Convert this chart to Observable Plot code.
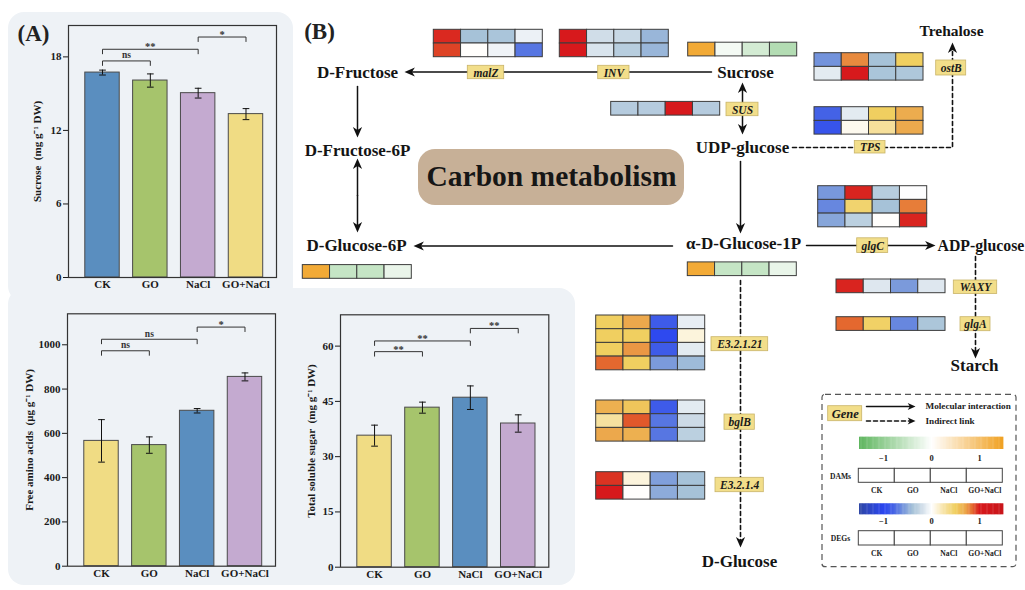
<!DOCTYPE html>
<html><head><meta charset="utf-8">
<script src="https://cdn.jsdelivr.net/npm/d3@7"></script>
<script src="https://cdn.jsdelivr.net/npm/@observablehq/plot@0.6"></script>
<style>
body{margin:0;background:#fff;}
#root{position:relative;width:1025px;height:590px;overflow:hidden;background:#fff;}
.bg{position:absolute;background:#eef2f6;border-radius:16px;}
</style></head><body><div id="root"></div>
<script>
// ================= DATA =================
const groups = ["CK", "GO", "NaCl", "GO+NaCl"];

// Panel A – bar charts (mean ± error)
const sucrose = [16.72, 16.07, 15.04, 13.33];
const sucroseErr = [0.2, 0.54, 0.4, 0.45];
const sucroseTicks = [0, 6, 12, 18];
const sucroseSig = [{a:0,b:1,y:17.67,label:"ns"},{a:0,b:2,y:18.62,label:"**"},{a:2,b:3,y:19.62,label:"*"}];

const aminoAcids = [566, 547, 702, 855];
const aminoErr = [96, 37, 10, 18];
const aminoTicks = [0, 200, 400, 600, 800, 1000];
const aminoSig = [{a:0,b:1,y:973,label:"ns"},{a:0,b:2,y:1025,label:"ns"},{a:2,b:3,y:1080,label:"*"}];

const solubleSugar = [35.7, 43.3, 46.0, 39.0];
const sugarErr = [2.85, 1.5, 3.2, 2.35];
const sugarTicks = [0, 15, 30, 45, 60];
const sugarSig = [{a:0,b:1,y:58.5,label:"**"},{a:0,b:2,y:61.4,label:"**"},{a:2,b:3,y:64.8,label:"**"}];

// Panel B – metabolites, genes and heatmap values (columns: CK, GO, NaCl, GO+NaCl)
const metabolites = ["D-Fructose","Sucrose","D-Fructose-6P","UDP-glucose","Trehalose","D-Glucose-6P","α-D-Glucose-1P","ADP-glucose","Starch","D-Glucose"];
const genes = ["malZ","INV","SUS","TPS","ostB","glgC","WAXY","glgA","E3.2.1.21","bglB","E3.2.1.4"];

const malZExpr   = [[0.97,-0.40,-0.38,-0.08],[0.92,0.01,-0.07,-0.72]];
const invExpr    = [[1.00,-0.20,-0.24,-0.45],[1.00,-0.16,-0.32,-0.45]];
const susExpr    = [[-0.33,-0.33,1.00,-0.33]];
const ostBExpr   = [[-0.60,0.77,-0.40,0.50],[-0.12,1.00,-0.38,-0.36]];
const tpsExpr    = [[-0.80,-0.12,0.50,0.68],[-0.90,0.05,0.30,0.69]];
const glgCExpr   = [[-0.58,0.98,-0.32,-0.01],[-0.65,0.45,-0.40,0.80],[-0.52,-0.30,0.01,0.98]];
const waxyExpr   = [[0.98,-0.14,-0.57,-0.14]];
const glgAExpr   = [[0.85,0.48,-0.65,-0.37]];
const e32121Expr = [[0.50,0.70,-0.85,-0.10],[0.50,0.50,-0.97,0.10],[0.50,0.74,-0.85,-0.12],[0.85,0.50,-0.57,-0.43]];
const bglBExpr   = [[0.66,0.55,-0.85,-0.12],[0.28,0.88,-0.72,-0.22],[0.70,0.66,-0.72,-0.30]];
const e3214Expr  = [[0.95,0.10,-0.55,-0.40],[1.00,0.01,-0.50,-0.40]];
const sucroseDAM = [[1.35,-0.10,-0.41,-0.71]];
const g1pDAM     = [[1.35,-0.54,-0.54,-0.21]];
const g6pDAM     = [[1.35,-0.54,-0.54,-0.20]];
const legendTicks = [-1, 0, 1];

// ================= SCALES =================
const degColor = d3.scaleLinear()
  .domain([-1.5,-1,-0.8,-0.6,-0.4,-0.2,0,0.25,0.5,0.7,0.85,1,1.5])
  .range(["#2f47a6","#2a45f0","#4462e6","#7393dc","#a6c2d8","#d0dde8","#ffffff","#f7e3a8","#f0cf60","#eca84c","#e4682f","#d7191c","#c8161b"])
  .clamp(true);
const damColor = d3.scaleLinear().domain([-1.5,0,1.5]).range(["#5fb65f","#ffffff","#f0a020"]).clamp(true);

// ================= LAYOUT =================
const root = document.getElementById("root");
function bg(l,t,w,h){const d=document.createElement("div");d.className="bg";Object.assign(d.style,{left:l+"px",top:t+"px",width:w+"px",height:h+"px"});root.appendChild(d);}
bg(8,12,285,290); bg(8,288,567,297);
function place(el,l,t){el.style.position="absolute";el.style.left=l+"px";el.style.top=t+"px";root.appendChild(el);}
const SERIF = "'Liberation Serif','Times New Roman',serif";

// ---------- Panel B diagram ----------
const heatSets = [
  {name:"malZ", kind:"DEG", values:malZExpr, at:[433.3,29.3]},
  {name:"INV", kind:"DEG", values:invExpr, at:[559.3,29.3]},
  {name:"sucroseDAM", kind:"DAM", values:sucroseDAM, at:[687.7,42.2]},
  {name:"SUS", kind:"DEG", values:susExpr, at:[610.7,101.4]},
  {name:"ostB", kind:"DEG", values:ostBExpr, at:[814,52.7]},
  {name:"TPS", kind:"DEG", values:tpsExpr, at:[814,106.7]},
  {name:"glgC", kind:"DEG", values:glgCExpr, at:[817.7,185.7]},
  {name:"g1pDAM", kind:"DAM", values:g1pDAM, at:[687.3,261.9]},
  {name:"g6pDAM", kind:"DAM", values:g6pDAM, at:[302.3,264.6]},
  {name:"WAXY", kind:"DEG", values:waxyExpr, at:[836,279]},
  {name:"glgA", kind:"DEG", values:glgAExpr, at:[836,316.7]},
  {name:"E3.2.1.21", kind:"DEG", values:e32121Expr, at:[595.7,315]},
  {name:"bglB", kind:"DEG", values:bglBExpr, at:[595.7,400]},
  {name:"E3.2.1.4", kind:"DEG", values:e3214Expr, at:[595.7,471.7]}
];
const CW = 27.25, CH = 13.7;
const cells = heatSets.flatMap(s => s.values.flatMap((row, r) => row.map((v, c) => ({
  x1: s.at[0] + c*CW, x2: s.at[0] + (c+1)*CW, y1: s.at[1] + r*CH, y2: s.at[1] + (r+1)*CH, v, kind: s.kind
}))));

const nodeLayout = [
  {name:metabolites[0], x:357, y:72, size:17},
  {name:metabolites[1], x:745, y:72, size:17},
  {name:metabolites[2], x:357, y:150, size:17},
  {name:metabolites[3], x:742, y:147, size:17},
  {name:metabolites[4], x:951, y:31, size:15.5},
  {name:metabolites[5], x:356, y:245.5, size:17},
  {name:metabolites[6], x:743, y:243.5, size:17},
  {name:metabolites[8], x:974, y:365.5, size:17},
  {name:metabolites[9], x:739, y:561.5, size:17}
];
const nodeStart = [{name:metabolites[7], x:937, y:245, size:15.8}];

const geneLayout = [
  {gene:genes[0], x1:467.3, x2:503.7, y1:65.3, y2:78.7},
  {gene:genes[1], x1:597.7, x2:629, y1:65.3, y2:78.7},
  {gene:genes[2], x1:726, x2:758, y1:102.2, y2:115.7},
  {gene:genes[3], x1:854.3, x2:885, y1:140.5, y2:153},
  {gene:genes[4], x1:935.7, x2:965.7, y1:60, y2:75},
  {gene:genes[5], x1:856.7, x2:887.7, y1:237.8, y2:252.5},
  {gene:genes[6], x1:953.3, x2:996.7, y1:280, y2:293.5},
  {gene:genes[7], x1:960, x2:990, y1:316.7, y2:330.7},
  {gene:genes[8], x1:711, x2:767.7, y1:336.7, y2:350.7},
  {gene:genes[9], x1:724, x2:754.3, y1:414, y2:429.3},
  {gene:genes[10], x1:715, x2:763.3, y1:477.3, y2:491.7}
];
const legendGene = [{gene:"Gene", x1:827.7, x2:861.7, y1:405.7, y2:420.7}];

// edges: polylines, arrowhead at last point
const edges = [
  {pts:[[711,71.5],[404,71.5]], dash:false},
  {pts:[[357,86],[357,137]], dash:false},
  {pts:[[357,195],[357,158]], dash:false},
  {pts:[[357,195],[357,232]], dash:false},
  {pts:[[672,245.5],[413,245.5]], dash:false},
  {pts:[[742,108],[742,82]], dash:false},
  {pts:[[742,108],[742,134]], dash:false},
  {pts:[[740,161],[740,233]], dash:false},
  {pts:[[792,147],[952,147],[952,42]], dash:true},
  {pts:[[806,245],[935,245]], dash:false},
  {pts:[[975,256],[975,358]], dash:true},
  {pts:[[740,280],[740,547]], dash:true},
  {pts:[[866,406],[915,406]], dash:false, small:true},
  {pts:[[866,420.5],[915,420.5]], dash:true, small:true}
];
const stealth = {draw(ctx, size){const r=Math.sqrt(size/Math.PI);const L=2.6*r,w=1.15*r;ctx.moveTo(0,0);ctx.lineTo(w,L);ctx.lineTo(0,0.72*L);ctx.lineTo(-w,L);ctx.closePath();}};
const lineRows = [], heads = [];
edges.forEach((e, k) => {
  const r = e.small ? 3 : 4;
  const n = e.pts.length, tip = e.pts[n-1], prev = e.pts[n-2];
  const dx = tip[0]-prev[0], dy = tip[1]-prev[1], len = Math.hypot(dx,dy);
  const back = 0.72*2.6*r;
  e.pts.forEach((p, i) => {
    const q = i === n-1 ? [tip[0]-dx/len*back, tip[1]-dy/len*back] : p;
    lineRows.push({k, x:q[0], y:q[1], dash:e.dash});
  });
  heads.push({x:tip[0], y:tip[1], angle: Math.atan2(dy,dx)*180/Math.PI + 90, small: !!e.small});
});

const legSteps = d3.range(-1.5, 1.5, 0.025);
const legX = v => 931 + 48*v;
const legBars = [
  ...legSteps.map(v => ({x1:legX(v), x2:legX(v+0.025)+0.4, y1:436.7, y2:449, fill:damColor(v)})),
  ...legSteps.map(v => ({x1:legX(v), x2:legX(v+0.025)+0.4, y1:503.3, y2:514.3, fill:degColor(v)}))
];
const legBoxes = [0,1,2,3].flatMap(i => [
  {x1:858.3+36*i, x2:858.3+36*(i+1), y1:468.3, y2:482.3, g:groups[i], ty:490.5},
  {x1:858.3+36*i, x2:858.3+36*(i+1), y1:530.7, y2:545, g:groups[i], ty:552.8}
]);
const legTickRows = legendTicks.flatMap(t => [{t, y:457.7}, {t, y:521}]);

const diagram = Plot.plot({
  width:1025, height:590, margin:0,
  x:{domain:[0,1025], range:[0,1025], axis:null},
  y:{domain:[0,590], range:[0,590], axis:null},
  color:{type:"identity"},
  style:{background:"transparent", fontFamily:SERIF, color:"#141414", overflow:"hidden"},
  marks:[
    Plot.rect([{x1:418,x2:684,y1:149,y2:205}], {x1:"x1",x2:"x2",y1:"y1",y2:"y2", fill:"#c7b097", rx:17}),
    Plot.text(["Carbon metabolism"], {x:551, y:176, text:d=>d, fontSize:29.5, fontWeight:"bold", fill:"#161616"}),
    Plot.rect(cells, {x1:"x1",x2:"x2",y1:"y1",y2:"y2", fill:d => (d.kind==="DAM"?damColor:degColor)(d.v), stroke:"#3c3c3c", strokeWidth:1}),
    Plot.line(lineRows.filter(d=>!d.dash), {x:"x", y:"y", z:"k", stroke:"#111", strokeWidth:1.5}),
    Plot.line(lineRows.filter(d=>d.dash), {x:"x", y:"y", z:"k", stroke:"#111", strokeWidth:1.6, strokeDasharray:"4,3"}),
    Plot.dot(heads.filter(d=>!d.small), {x:"x", y:"y", rotate:"angle", r:4, symbol:stealth, fill:"#111", stroke:"none"}),
    Plot.dot(heads.filter(d=>d.small), {x:"x", y:"y", rotate:"angle", r:3, symbol:stealth, fill:"#111", stroke:"none"}),
    Plot.rect(geneLayout.concat(legendGene), {x1:"x1",x2:"x2",y1:"y1",y2:"y2", fill:"#f2de8a", stroke:"#c9b468", strokeWidth:0.8}),
    Plot.text(geneLayout, {x:d=>(d.x1+d.x2)/2, y:d=>(d.y1+d.y2)/2+0.5, text:"gene", fontSize:11.5, fontStyle:"italic", fontWeight:"bold", fill:"#1a1a1a"}),
    Plot.text(legendGene, {x:d=>(d.x1+d.x2)/2, y:d=>(d.y1+d.y2)/2+0.5, text:"gene", fontSize:12.5, fontStyle:"italic", fontWeight:"bold", fill:"#1a1a1a"}),
    Plot.text(nodeLayout, {x:"x", y:"y", text:"name", fontSize:"size", fontWeight:"bold", fill:"#141414"}),
    Plot.text(nodeStart, {x:"x", y:"y", text:"name", fontSize:15.8, fontWeight:"bold", textAnchor:"start", fill:"#141414"}),
    Plot.text(["(A)"], {x:33, y:33, text:d=>d, fontSize:23, fontWeight:"bold", fill:"#222"}),
    Plot.text(["(B)"], {x:319, y:31, text:d=>d, fontSize:23, fontWeight:"bold", fill:"#222"}),
    // legend
    Plot.rect([{x1:822,x2:1016,y1:394.3,y2:566.7}], {x1:"x1",x2:"x2",y1:"y1",y2:"y2", fill:"none", stroke:"#555", strokeWidth:1.2, strokeDasharray:"6,4", rx:3}),
    Plot.text(["Molecular interaction","Indirect link"], {x:925, y:(d,i)=>i?420.5:406, text:d=>d, fontSize:9.2, fontWeight:"bold", textAnchor:"start", fill:"#222"}),
    Plot.rect(legBars, {x1:"x1",x2:"x2",y1:"y1",y2:"y2", fill:"fill"}),
    Plot.text(legTickRows, {x:d=>legX(d.t), y:"y", text:d=>d.t<0?"\u2212"+Math.abs(d.t):String(d.t), fontSize:8.5, fontWeight:"bold", fill:"#222"}),
    Plot.rect(legBoxes, {x1:"x1",x2:"x2",y1:"y1",y2:"y2", fill:"#fff", stroke:"#444", strokeWidth:1}),
    Plot.text(legBoxes, {x:d=>(d.x1+d.x2)/2, y:"ty", text:"g", fontSize:7.6, fontWeight:"bold", fill:"#222"}),
    Plot.text(["DAMs","DEGs"], {x:840, y:(d,i)=>i?538.5:475.7, text:d=>d, fontSize:7.6, fontWeight:"bold", fill:"#222"})
  ]
});
place(diagram, 0, 0);

// ---------- Panel A bar charts ----------
function barChart(o) {
  const rows = groups.map((g, i) => ({i, g, v:o.values[i], e:o.err[i], c:o.colors[i]}));
  const plotH = o.height - o.mt - o.mb;
  const drop = 4.5 * o.yMax / plotH;
  const br = o.sig.flatMap((s, k) => [
    {k, x:s.a, y:s.y-drop}, {k, x:s.a, y:s.y}, {k, x:s.b, y:s.y}, {k, x:s.b, y:s.y-drop}
  ]);
  return Plot.plot({
    width:o.width, height:o.height,
    marginLeft:o.ml, marginRight:o.mr, marginTop:o.mt, marginBottom:o.mb,
    style:{background:"transparent", fontFamily:SERIF, fontWeight:"bold", fontSize:"11px", color:"#1a1a1a", overflow:"visible"},
    x:{domain:[-0.711, 3.638]},
    y:{domain:[0, o.yMax]},
    color:{type:"identity"},
    marks:[
      Plot.rectY(rows, {x1:d=>d.i-0.36, x2:d=>d.i+0.36, y1:0, y2:"v", fill:"c", stroke:"#4a4a4a", strokeWidth:1}),
      Plot.ruleX(rows, {x:"i", y1:d=>d.v-d.e, y2:d=>d.v+d.e, stroke:"#111", strokeWidth:1}),
      Plot.link(rows, {x1:d=>d.i-0.07, x2:d=>d.i+0.07, y1:d=>d.v+d.e, y2:d=>d.v+d.e, stroke:"#111", strokeWidth:1}),
      Plot.link(rows, {x1:d=>d.i-0.07, x2:d=>d.i+0.07, y1:d=>d.v-d.e, y2:d=>d.v-d.e, stroke:"#111", strokeWidth:1}),
      Plot.line(br, {x:"x", y:"y", z:"k", stroke:"#333", strokeWidth:1}),
      Plot.text(o.sig.filter(s=>s.label==="ns"), {x:d=>(d.a+d.b)/2, y:"y", text:"label", dy:-5.5, fontSize:9.5, fill:"#333"}),
      Plot.text(o.sig.filter(s=>s.label!=="ns"), {x:d=>(d.a+d.b)/2, y:"y", text:"label", dy:-2.5, fontSize:10.5, fill:"#333"}),
      Plot.axisY({ticks:o.ticks, tickFormat:d=>String(d), tickSize:5, tickPadding:2, fontSize:11, label:o.label, labelAnchor:"center", labelOffset:o.labelOffset, labelArrow:"none"}),
      Plot.axisX({ticks:[0,1,2,3], tickFormat:i=>groups[i], tickSize:0, tickPadding:3, fontSize:11, label:null}),
      Plot.frame({stroke:"#333", strokeWidth:1.2})
    ]
  });
}
const BLUE="#5a8ebf", GREEN="#a6c46c", PURPLE="#c4aad0", YELLOW="#f0dc84";

place(barChart({values:sucrose, err:sucroseErr, colors:[BLUE,GREEN,PURPLE,YELLOW], sig:sucroseSig, yMax:20.56, ticks:sucroseTicks,
  label:"Sucrose\u00a0 (mg g\u207b\u00b9 DW)", width:290, height:295, ml:68, mr:14, mt:25, mb:18, labelOffset:35}), 0, 0);
place(barChart({values:aminoAcids, err:aminoErr, colors:[YELLOW,GREEN,BLUE,PURPLE], sig:aminoSig, yMax:1140, ticks:aminoTicks,
  label:"Free amino acids\u00a0 (\u03bcg g\u207b\u00b9 DW)", width:290, height:300, ml:67, mr:15, mt:23.3, mb:24.3, labelOffset:42}), 0, 290);
place(barChart({values:solubleSugar, err:sugarErr, colors:[YELLOW,GREEN,BLUE,PURPLE], sig:sugarSig, yMax:68.5, ticks:sugarTicks,
  label:"Total soluble sugar\u00a0 (mg g\u207b\u00b9 DW)", width:290, height:300, ml:50, mr:31.7, mt:24.3, mb:23.3, labelOffset:33}), 290, 290);
</script></body></html>
